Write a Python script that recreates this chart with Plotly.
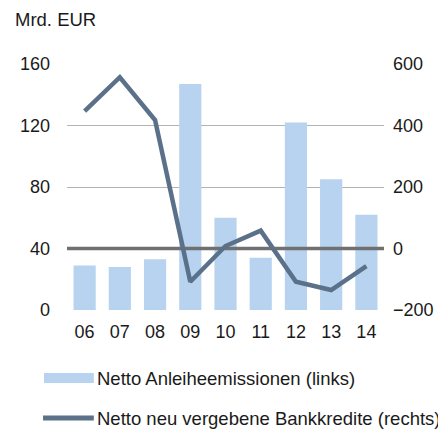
import plotly.graph_objects as go

years = ["06", "07", "08", "09", "10", "11", "12", "13", "14"]
bonds = [29, 28, 33, 147, 60, 34, 122, 85, 62]          # Mrd. EUR, left axis
credit = [447, 557, 418, -108, 8, 58, -108, -135, -57]   # Mrd. EUR, right axis

left_ticks = [0, 40, 80, 120, 160]
right_ticks = [-200, 0, 200, 400, 600]
series_names = ["Netto Anleiheemissionen (links)", "Netto neu vergebene Bankkredite (rechts)"]

bar_color = "#b7d3ef"
line_color = "#5a7189"
text_color = "#1a1a1a"
font = "Liberation Sans, Arial, sans-serif"

# page body has an 8px offset; size the figure so it fits the 446x429 window
OFF = 8
W, H = 446 - OFF, 429 - OFF
ML, MR, MT, MB = 60 - OFF, 446 - 391, 64 - OFF, 429 - 310
PW, PH = W - ML - MR, H - MT - MB


def px(x):  # screen pixel x -> paper fraction
    return (x - OFF - ML) / PW


def py(y):  # screen pixel y -> paper fraction
    return (H - MB - (y - OFF)) / PH


xs = list(range(len(years)))

fig = go.Figure()
fig.add_trace(go.Bar(x=xs, y=bonds, marker=dict(color=bar_color, line=dict(width=0)),
                     name=series_names[0], showlegend=False, yaxis="y"))
fig.add_trace(go.Scatter(x=[xs[0] - 0.5, xs[-1] + 0.5], y=[0, 0], mode="lines",
                         line=dict(color="#707070", width=3.5), showlegend=False,
                         hoverinfo="skip", yaxis="y2"))
fig.add_trace(go.Scatter(x=xs, y=credit, mode="lines", line=dict(color=line_color, width=4.5),
                         name=series_names[1], showlegend=False, yaxis="y2"))

# custom legend (layout decoration)
shapes = [
    dict(type="rect", xref="paper", yref="paper", x0=px(36), x1=px(88), y0=py(383), y1=py(373),
         fillcolor=bar_color, line=dict(width=0)),
    dict(type="line", xref="paper", yref="paper", x0=px(35), x1=px(88), y0=py(418), y1=py(418),
         line=dict(color=line_color, width=5)),
]
annotations = [
    dict(text="Mrd. EUR", xref="paper", yref="paper", x=px(4), y=py(20),
         xanchor="left", yanchor="middle", showarrow=False,
         font=dict(size=18.5, color=text_color)),
    dict(text=series_names[0], xref="paper", yref="paper", x=px(89), y=py(378),
         xanchor="left", yanchor="middle", showarrow=False,
         font=dict(size=18.5, color=text_color)),
    dict(text=series_names[1], xref="paper", yref="paper", x=px(89), y=py(418),
         xanchor="left", yanchor="middle", showarrow=False,
         font=dict(size=18.5, color=text_color)),
]

fig.update_layout(
    width=W, height=H,
    margin=dict(l=ML, r=MR, t=MT, b=MB),
    paper_bgcolor="white", plot_bgcolor="white",
    font=dict(family=font, size=18, color=text_color),
    bargap=0.37,
    showlegend=False,
    xaxis=dict(range=[-0.5, len(years) - 0.5], tickvals=xs, ticktext=years,
               showgrid=False, zeroline=False, showline=False, ticks="", ticklen=0,
               ticklabelstandoff=9),
    yaxis=dict(range=[0, 160], tickvals=left_ticks, showgrid=True, gridcolor="#b3b3b3",
               gridwidth=1, zeroline=False, showline=False, ticks="", ticklabelstandoff=16),
    yaxis2=dict(range=[-200, 600], tickvals=right_ticks, overlaying="y", side="right",
                showgrid=False, zeroline=False, showline=False, ticks="", ticklabelstandoff=8),
    shapes=shapes,
    annotations=annotations,
)

fig.write_html("out.html")
